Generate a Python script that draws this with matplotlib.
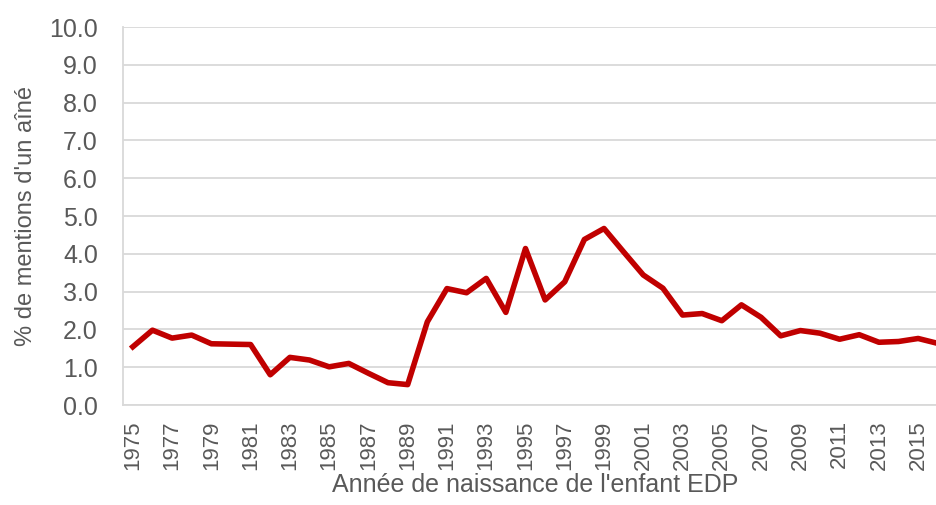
import numpy as np
import matplotlib.pyplot as plt

plt.rcParams['font.family'] = ['Liberation Sans', 'DejaVu Sans']

years = list(range(1975, 2017))
share = [1.54, 1.98, 1.77, 1.85, 1.62, 1.61, 1.60, 0.80, 1.26, 1.19,
         1.01, 1.10, 0.84, 0.59, 0.54, 2.20, 3.08, 2.97, 3.35, 2.45,
         4.14, 2.78, 3.26, 4.38, 4.67, 4.05, 3.44, 3.09, 2.38, 2.42,
         2.23, 2.65, 2.32, 1.83, 1.97, 1.90, 1.74, 1.86, 1.66, 1.68,
         1.76, 1.63]
xticks = list(range(1975, 2017, 2))
yticks = np.arange(0, 10.5, 1.0)

grey = '#595959'
grid = '#D9D9D9'

fig = plt.figure(figsize=(9.36, 5.05), dpi=100)
ax = fig.add_axes([0.1314, 0.198, 0.881, 0.7485])

ax.plot(years, share, color='#C00000', linewidth=4.0, zorder=3)

ax.set_xlim(1974.5, 2016.5)
ax.set_ylim(0, 10)
ax.set_yticks(yticks)
ax.set_yticklabels([f"{v:.1f}" for v in yticks])
ax.set_xticks(xticks)
ax.set_xticklabels([str(y) for y in xticks], rotation=90)
ax.tick_params(axis='y', length=0, pad=18, labelsize=18, labelcolor=grey)
ax.tick_params(axis='x', length=0, pad=11, labelsize=16, labelcolor=grey)

ax.grid(axis='y', color=grid, linewidth=1.3)
ax.set_axisbelow(True)
for side in ['top', 'right']:
    ax.spines[side].set_visible(False)
for side in ['left', 'bottom']:
    ax.spines[side].set_color(grid)
    ax.spines[side].set_linewidth(1.3)

ax.set_ylabel("% de mentions d'un aîné", fontsize=17, color=grey, labelpad=9)
ax.set_xlabel("Année de naissance de l'enfant EDP", fontsize=18, color=grey, labelpad=2)

fig.savefig('out.png', dpi=100)
